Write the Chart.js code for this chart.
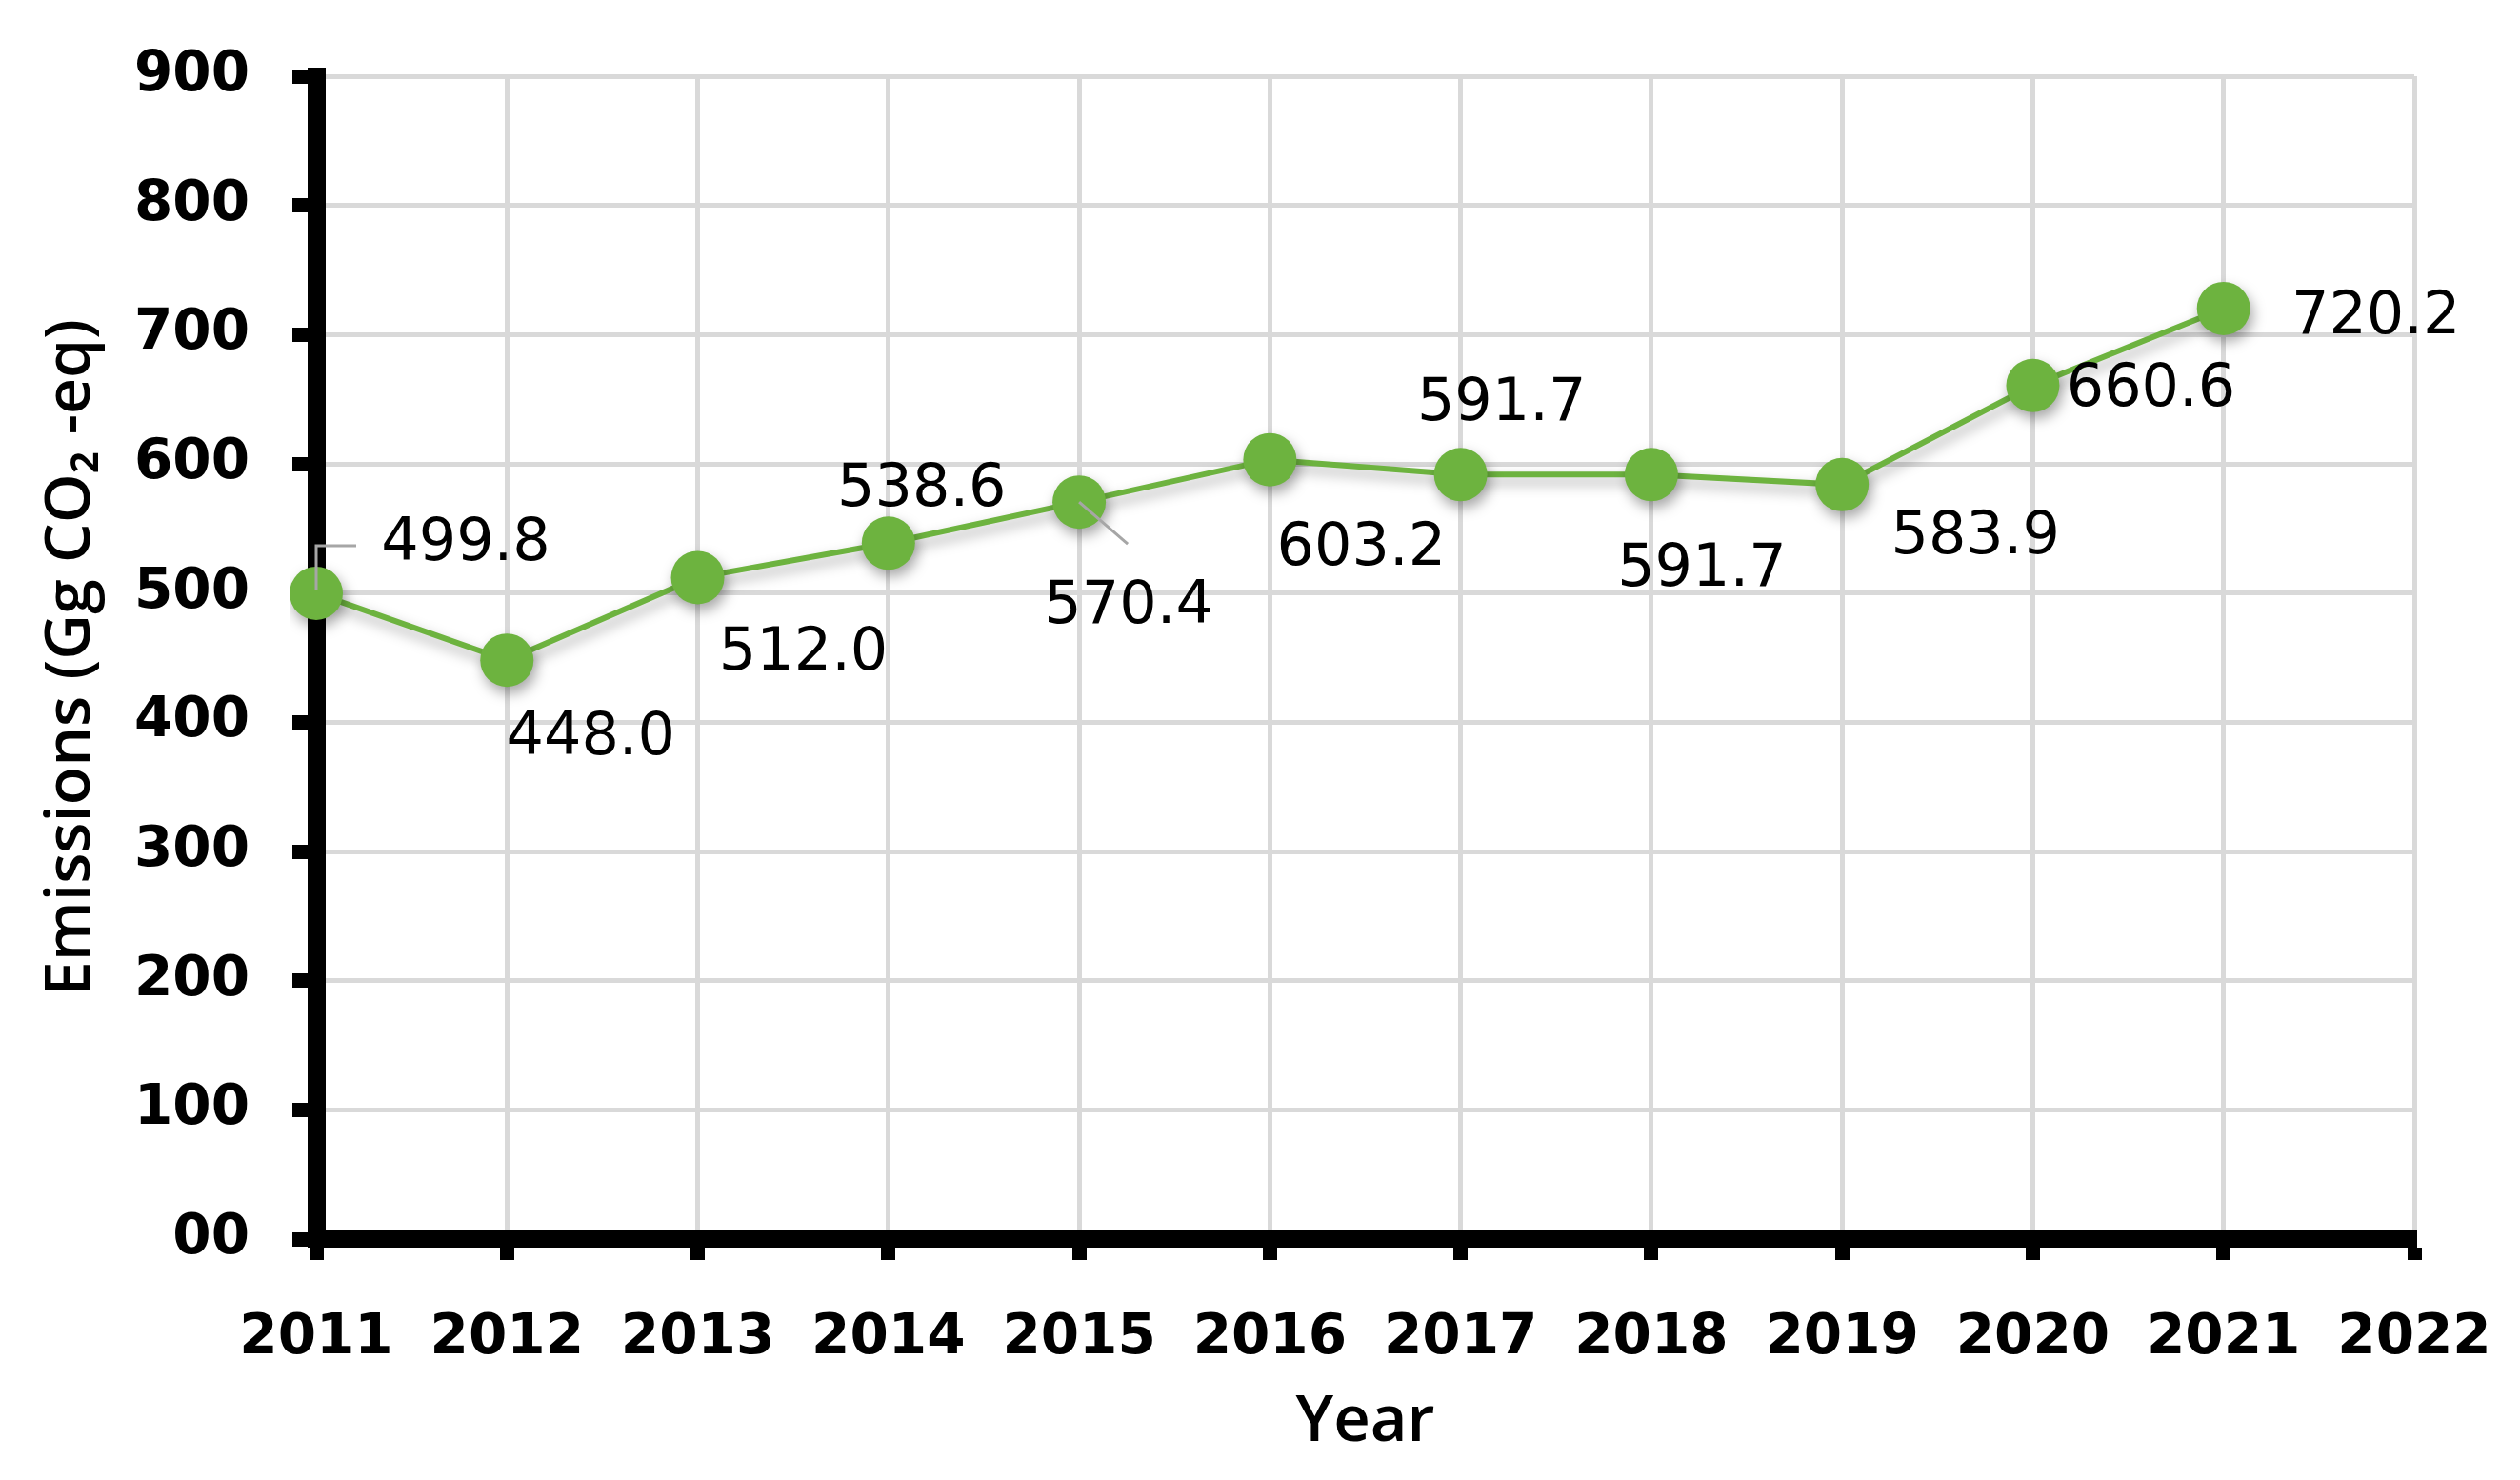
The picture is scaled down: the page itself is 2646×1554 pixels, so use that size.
<!DOCTYPE html>
<html lang="en">
<head>
    <meta charset="UTF-8">
    <title>Emissions</title>
    <script src="https://cdn.jsdelivr.net/npm/chart.js"></script>
    <style>
        body { margin: 0; background: #fff; }
        canvas { display: block; }
    </style>
</head>
<body>
    <canvas id="emissionsChart" width="2646" height="1554"></canvas>
    <script>
        // data
        const years = ['2011', '2012', '2013', '2014', '2015', '2016', '2017', '2018', '2019', '2020', '2021', '2022'];
        const emissions = [499.8, 448.0, 512.0, 538.6, 570.4, 603.2, 591.7, 591.7, 583.9, 660.6, 720.2];
        const yTickLabels = ['00', '100', '200', '300', '400', '500', '600', '700', '800', '900'];

        // where each value label sits, relative to its point (px)
        const labelOffsets = [[157, -51], [88, 83], [111, 81], [35, -55], [52, 111], [96, 94], [43, -73], [53, 101], [140, 56], [124, 5], [160, 10]];
        // leader lines (only two points have them)
        const leaders = {
            0: [[0, -4], [0, -50], [42, -50]],
            4: [[0, 0], [51, 44]]
        };

        const green = '#6db33f';

        const labelPlugin = {
            id: 'labelPlugin',
            beforeDatasetsDraw(chart) {
                const ctx = chart.ctx;
                ctx.save();
                ctx.shadowColor = 'rgba(0,0,0,0.35)';
                ctx.shadowBlur = 14;
                ctx.shadowOffsetX = 3;
                ctx.shadowOffsetY = 7;
            },
            afterDatasetsDraw(chart) {
                const ctx = chart.ctx;
                ctx.restore();
                const pts = chart.getDatasetMeta(0).data;

                ctx.save();
                ctx.strokeStyle = '#a6a6a6';
                ctx.lineWidth = 3;
                Object.keys(leaders).forEach(k => {
                    const p = pts[k];
                    ctx.beginPath();
                    leaders[k].forEach((d, i) => {
                        if (i === 0) ctx.moveTo(p.x + d[0], p.y + d[1]);
                        else ctx.lineTo(p.x + d[0], p.y + d[1]);
                    });
                    ctx.stroke();
                });

                ctx.fillStyle = '#000';
                ctx.font = '62px "DejaVu Sans"';
                ctx.textAlign = 'center';
                ctx.textBaseline = 'middle';
                pts.forEach((p, i) => {
                    const off = labelOffsets[i];
                    ctx.fillText(emissions[i].toFixed(1), p.x + off[0], p.y + off[1]);
                });
                ctx.restore();
            }
        };

        const ctx = document.getElementById('emissionsChart').getContext('2d');
        new Chart(ctx, {
            type: 'line',
            data: {
                labels: years,
                datasets: [{
                    data: emissions,
                    borderColor: green,
                    backgroundColor: green,
                    borderWidth: 6,
                    pointRadius: 28,
                    pointHoverRadius: 28,
                    pointBackgroundColor: green,
                    pointBorderColor: green,
                    pointBorderWidth: 0,
                    tension: 0,
                    fill: false
                }]
            },
            options: {
                responsive: false,
                animation: false,
                devicePixelRatio: 1,
                layout: {
                    padding: { left: 0, right: 111, top: 80, bottom: 0 }
                },
                plugins: {
                    legend: { display: false },
                    tooltip: { enabled: false }
                },
                scales: {
                    x: {
                        type: 'category',
                        offset: false,
                        afterFit: s => {
                            s.height = 253;
                            s.paddingLeft = 0;
                            s.paddingRight = 0;
                        },
                        grid: {
                            color: '#d9d9d9',
                            lineWidth: 5,
                            tickColor: '#000',
                            tickWidth: 15,
                            tickLength: 22
                        },
                        border: { color: '#000', width: 18 },
                        ticks: {
                            color: '#000',
                            font: { family: 'DejaVu Sans', size: 58, weight: 'bold' },
                            padding: 48,
                            maxRotation: 0,
                            autoSkip: false
                        },
                        title: {
                            display: true,
                            text: 'Year',
                            color: '#000',
                            font: { family: 'Open Sans', size: 67, weight: '600' },
                            padding: { top: 0, bottom: 20 }
                        }
                    },
                    y: {
                        min: 0,
                        max: 900,
                        afterFit: s => { s.width = 332; },
                        grid: {
                            color: '#d9d9d9',
                            lineWidth: 5,
                            tickColor: '#000',
                            tickWidth: 15,
                            tickLength: 25
                        },
                        border: { color: '#000', width: 19 },
                        ticks: {
                            stepSize: 100,
                            color: '#000',
                            font: { family: 'DejaVu Sans', size: 58, weight: 'bold' },
                            padding: 45,
                            callback: (v, i) => yTickLabels[i]
                        },
                        title: {
                            display: true,
                            text: 'Emissions (Gg CO₂ -eq)',
                            color: '#000',
                            font: { family: "'Open Sans', 'Noto Sans'", size: 66, weight: '600' },
                            padding: { top: 36, bottom: 0 }
                        }
                    }
                }
            },
            plugins: [labelPlugin]
        });
    </script>
</body>
</html>
